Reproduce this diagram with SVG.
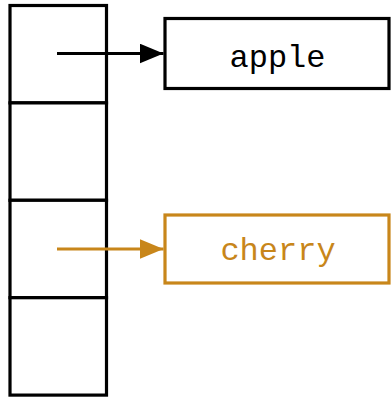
<svg xmlns="http://www.w3.org/2000/svg" width="391" height="398" viewBox="0 0 391 398">
  <style>
    .cell { fill: #ffffff; stroke: #000000; stroke-width: 3.2; }
    .box { fill: #ffffff; stroke-width: 3.2; }
    .label { font-family: "Liberation Mono", "DejaVu Sans Mono", monospace; font-size: 32px; text-anchor: middle; }
    .link { fill: none; stroke-width: 3.2; }
  </style>
  <defs>
    <marker id="head-black" markerUnits="userSpaceOnUse" markerWidth="26" markerHeight="20" refX="24" refY="10" orient="auto">
      <path d="M0,0 L24,10 L0,20 Z" fill="#000000"/>
    </marker>
    <marker id="head-orange" markerUnits="userSpaceOnUse" markerWidth="26" markerHeight="20" refX="24" refY="10" orient="auto">
      <path d="M0,0 L24,10 L0,20 Z" fill="#c8861a"/>
    </marker>
  </defs>
  <rect width="391" height="398" fill="#ffffff"/>

  <!-- array of four slots -->
  <g id="slots">
    <rect class="cell" x="10" y="5.5" width="96.5" height="97.4"/>
    <rect class="cell" x="10" y="102.9" width="96.5" height="97.4"/>
    <rect class="cell" x="10" y="200.3" width="96.5" height="97.4"/>
    <rect class="cell" x="10" y="297.7" width="96.5" height="97.4"/>
  </g>

  <g id="node-apple">
    <rect class="box" x="165" y="18.5" width="224" height="70" stroke="#000000"/>
    <text class="label" x="277.5" y="66.5" fill="#000000">apple</text>
  </g>

  <g id="node-cherry">
    <rect class="box" x="165" y="215" width="224" height="68" stroke="#c8861a"/>
    <text class="label" x="278" y="260" fill="#c8861a">cherry</text>
  </g>

  <g id="connectors">
    <line class="link" x1="57" y1="53.5" x2="163.5" y2="53.5" stroke="#000000" marker-end="url(#head-black)"/>
    <line class="link" x1="57" y1="249" x2="163.5" y2="249" stroke="#c8861a" marker-end="url(#head-orange)"/>
  </g>
</svg>
